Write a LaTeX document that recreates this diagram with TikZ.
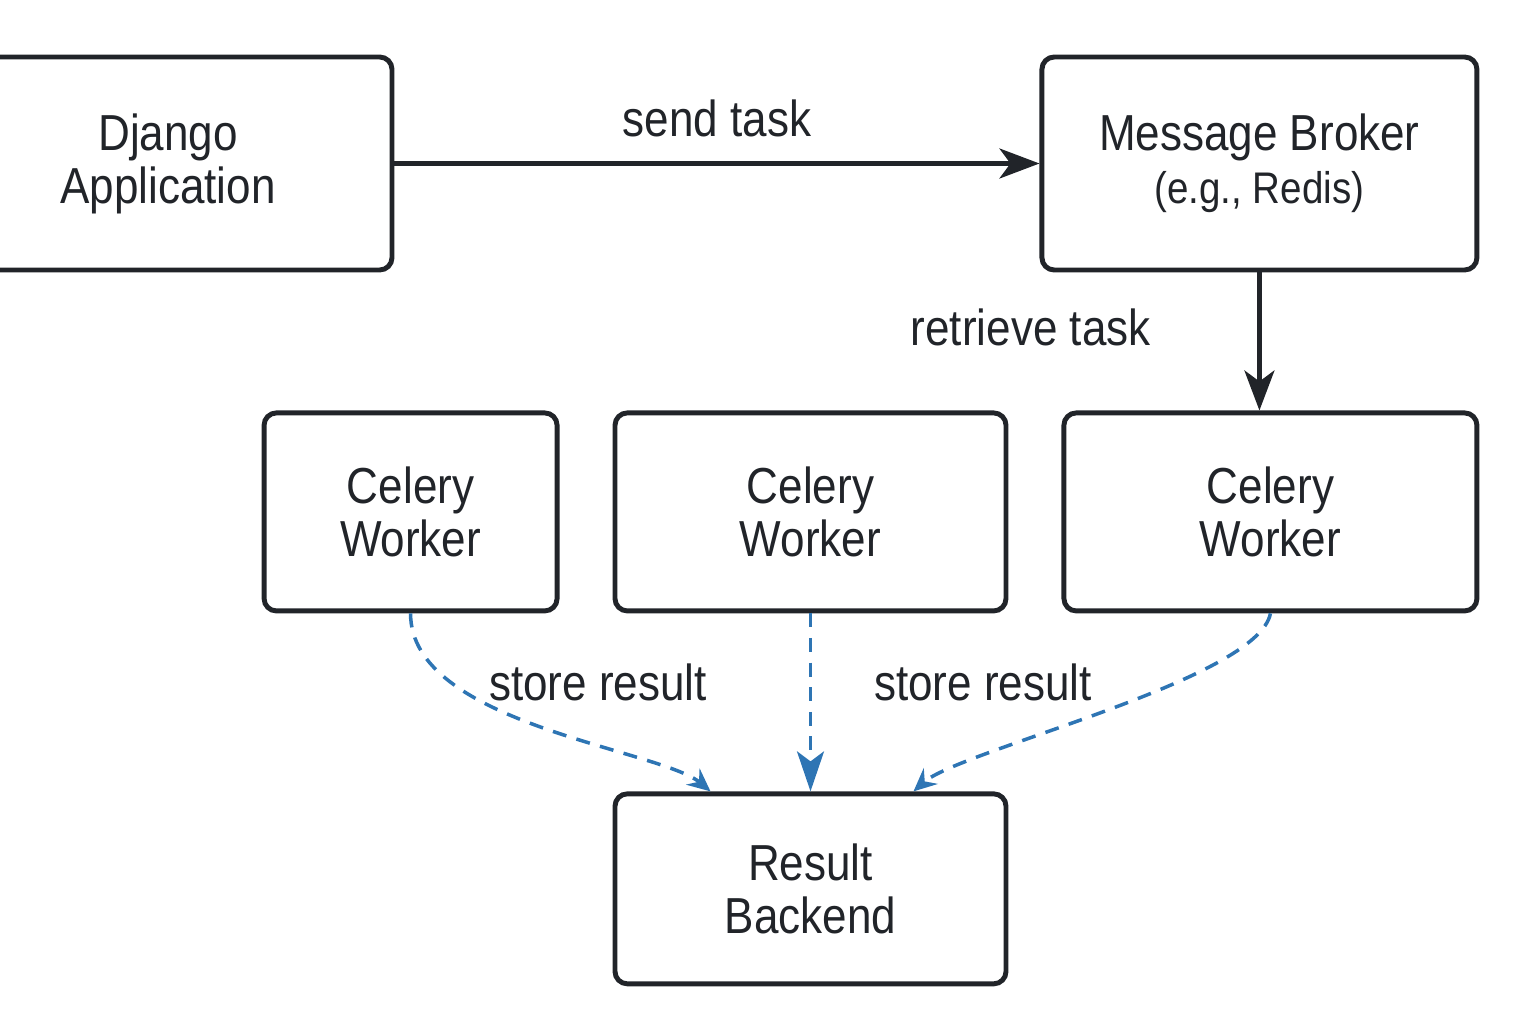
\documentclass[tikz,border=0pt]{standalone}
\usepackage{fontspec}
\setmainfont{Liberation Sans}[FakeStretch=0.87]
\usetikzlibrary{arrows.meta,positioning}
\definecolor{boxdark}{RGB}{33,36,41}
\definecolor{storeblue}{RGB}{46,117,180}

\begin{document}
\begin{tikzpicture}[
  sysbox/.style={draw=boxdark, line width=1.4pt, rounded corners=3.5pt, align=center,
                 text=boxdark, inner sep=0pt, font=\fontsize{14.4}{15.1}\selectfont},
  workerbox/.style={sysbox, minimum height=1.98cm},
  lbl/.style={text=boxdark, font=\fontsize{14.4}{15.1}\selectfont},
  arr/.style={-{Stealth[length=0.4cm, width=0.3cm, inset=0.11cm]}, line width=1.2pt, draw=boxdark},
  storearr/.style={-{Stealth[length=0.23cm, width=0.21cm, inset=0.08cm]}, line width=1pt,
                   draw=storeblue, dash pattern=on 4pt off 3pt},
  node distance=0.53cm
]
\useasboundingbox (0,0) rectangle (15.36,10.24);
\clip (0,0) rectangle (15.36,10.24);

%% Top row
\node[sysbox, minimum width=4.48cm, minimum height=2.13cm] (django) at (1.68,8.605)
  {Django\\Application};
\node[sysbox, minimum width=4.35cm, minimum height=2.13cm, right=6.45cm of django] (broker)
  {Message Broker\\{\fontsize{12.6}{14}\selectfont (e.g., Redis)}};

%% Workers
\node[workerbox, minimum width=4.13cm, below=1.38cm of broker, xshift=0.11cm] (worker3)
  {Celery\\Worker};
\node[workerbox, minimum width=3.91cm, left=of worker3] (worker2) {Celery\\Worker};
\node[workerbox, minimum width=2.93cm, left=of worker2] (worker1) {Celery\\Worker};

%% Result backend
\node[sysbox, minimum width=3.91cm, minimum height=1.90cm, below=1.78cm of worker2] (backend)
  {Result\\Backend};

%% Solid arrows
\draw[arr] (django.east |- broker.west) -- (broker.west)
  node[midway, above=0.13cm, lbl] {send task};
\draw[arr] (broker.south) -- (broker.south |- worker3.north)
  node[midway, left=0.95cm, yshift=0.14cm, lbl] {retrieve task};

%% Dashed result arrows
\draw[storearr] (worker1.south) .. controls (4.10,3.0) and (6.6,2.75) .. ([xshift=-1.0cm]backend.north);
\draw[storearr, -{Stealth[length=0.4cm, width=0.27cm, inset=0.1cm]}] (worker2.south) -- (backend.north);
\draw[storearr] (worker3.south) .. controls (12.58,3.44) and (9.6,2.74) .. ([xshift=1.03cm]backend.north);

\node[lbl] (storeA) at (5.98,3.42) {store result};
\node[lbl] (storeB) at (9.83,3.42) {store result};

\end{tikzpicture}
\end{document}
